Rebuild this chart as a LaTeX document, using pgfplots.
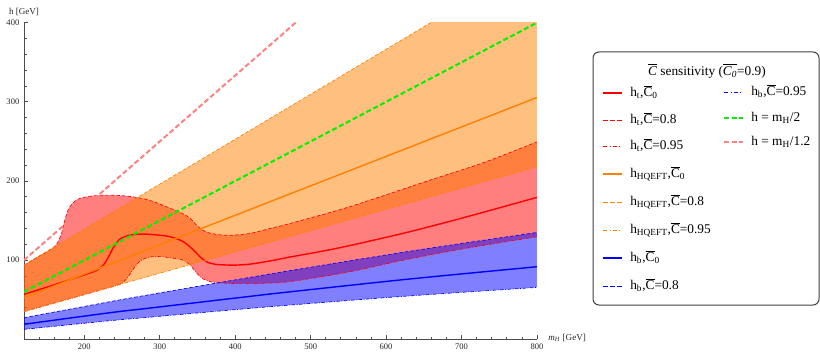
\documentclass[border=0pt]{standalone}
\usepackage{pgfplots}
\pgfplotsset{compat=1.18}
\usepgfplotslibrary{fillbetween}
\usepackage{fontspec}
\setmainfont{Liberation Serif}

\definecolor{mmaRed}{rgb}{1,0,0}
\definecolor{mmaOrange}{rgb}{1,0.5,0}
\definecolor{mmaBlue}{rgb}{0,0,1}
\definecolor{mmaGreen}{rgb}{0,0.95,0}
\definecolor{mmaPink}{rgb}{1,0.5,0.5}
\definecolor{axisgray}{gray}{0.3}

% overlined C in text font (upright and italic)
\newcommand{\Cbar}{$\overline{\hbox{C}}$}
\newcommand{\Cbarit}{$\overline{\hbox{\itshape C}}$}

\tikzset{
  bnddash/.style={line width=0.5pt, dash pattern=on 2.6pt off 1.6pt},
  bnddot/.style={line width=0.5pt, dash pattern=on 2.6pt off 1.2pt on 0.6pt off 1.2pt},
  refdash/.style={line width=1.5pt, dash pattern=on 3.8pt off 2pt},
  central/.style={line width=1.05pt, line cap=round},
  % legend keys
  lsolid/.style={line width=1.5pt},
  ldash/.style={line width=0.75pt, dash pattern=on 3.4pt off 2pt},
  ldot/.style={line width=0.75pt, dash pattern=on 3.2pt off 1.7pt on 0.8pt off 1.7pt},
  ltext/.style={anchor=base west, inner sep=0pt, font=\fontsize{10}{12}\selectfont},
}
% one legend row: sample start x, line y, sample style, label
\newcommand{\legrow}[4]{%
  \draw[#3] (#1,#2) -- ++(14.25pt,0pt);
  \node[ltext] at ([xshift=20.25pt,yshift=-2.6pt]#1,#2) {#4};}

\begin{document}
\begin{tikzpicture}
\begin{axis}[
  at={(18pt,8.775pt)}, anchor=south west,
  scale only axis, width=384.75pt, height=237.45pt,
  xmin=120, xmax=800, ymin=0, ymax=400,
  axis lines=left,
  axis line style={-, draw=axisgray, line width=0.7pt},
  tick align=inside,
  xtick={200,300,...,800}, minor xtick={140,160,...,780},
  ytick={100,200,300,400}, minor ytick={20,40,...,380},
  major tick length=3.2pt, minor tick length=2pt,
  tick style={axisgray, line width=0.6pt},
  tick label style={font=\fontsize{6.4}{7}\selectfont, text=black!85},
  /pgf/number format/assume math mode=true,
  xlabel={\textit{m}\textsubscript{\textit{H}} [GeV]},
  xlabel style={at={(axis description cs:1,0)}, anchor=west, xshift=5pt, yshift=1pt,
    font=\fontsize{6.8}{8}\selectfont, text=black!85},
  ylabel={h [GeV]},
  ylabel style={at={(axis description cs:0,1)}, rotate=-90, anchor=center, yshift=8.2pt,
    font=\fontsize{6.8}{8}\selectfont, text=black!85},
]

% ---- h_t band: Cbar = 0.8 (upper) and Cbar = 0.95 (lower)
\pgfplotstableread{
x     y
120   93.8
140   105
155   113.5
162   118.5
166   125
170   134.5
172.5 145
175.5 155
179   164.5
185   172.5
194   178
210   181
230   182.2
250   181.5
268   179.5
285   176
300   171
315   165
330   159
340   153
348   145
355   139
365   134.5
380   132
395   131.5
420   133.8
446   140
473   146.4
550   167
658   201
730   223.5
800   249.5
}\htupper
\pgfplotstableread{
x     y
120   35
160   45.8
200   56.5
240   67.3
250   71
258   79
265   89
274   99
287   104
300   104.5
314   103
331   100
340   94
349   83.5
358   76
371   72
398   70.5
430   70.5
473   73
550   85
623   100
700   114
800   129.6
}\htlower
\pgfplotstableread{
x     y
120   27.3
234   47.5
287   56.5
446   82.5
623   110
800   135
}\hbupper
\pgfplotstableread{
x     y
120   12.6
234   23.5
287   28
446   41.2
623   54.3
800   65.6
}\hblower

\addplot[name path=htU, draw=none, smooth] table {\htupper};
\addplot[name path=htL, draw=none, smooth] table {\htlower};
\addplot[name path=hqU, draw=none] coordinates {(120,93.8) (800,480)};
\addplot[name path=hqL, draw=none] coordinates {(120,35) (800,218)};
\addplot[name path=hbU, draw=none, smooth] table {\hbupper};
\addplot[name path=hbL, draw=none, smooth] table {\hblower};

\addplot[fill=mmaRed, fill opacity=0.5, draw=none] fill between[of=htU and htL];
\addplot[fill=mmaOrange, fill opacity=0.5, draw=none] fill between[of=hqU and hqL];
\addplot[fill=mmaBlue, fill opacity=0.5, draw=none] fill between[of=hbU and hbL];

% central curves (Cbar_0 = 0.9), each in two pieces, alternated with the band edges
\addplot[color=mmaRed, central, smooth] coordinates {
 (120,56.8) (160,68.8) (190,78.2) (205,83) (216,87) (225,93.5) (232,104)
 (238.5,116) (247,126.5) (260,131.5) (278,133) (300,131.5) (314,129.5)
 (331,123.5) (345,112.5) (353,104.5) (362,98) (375,94.6) (398,93.6)};
\addplot[color=mmaRed, bnddash, smooth] table {\htupper};
\addplot[color=mmaRed, central, smooth] coordinates {
 (398,93.6) (420,95) (446,99) (473,104) (535,115) (623,134) (700,153) (800,179.3)};
\addplot[color=mmaRed, bnddot, smooth] table {\htlower};

\addplot[color=mmaOrange, central] coordinates {(120,52.6) (460,179)};
\addplot[color=mmaOrange, bnddash] coordinates {(120,93.8) (800,480)};
\addplot[color=mmaOrange, central] coordinates {(460,179) (800,305.5)};
\addplot[color=mmaOrange, bnddot] coordinates {(120,35) (800,218)};

\addplot[color=mmaBlue, central, smooth] coordinates {
 (120,19) (234,33.6) (287,39.5) (446,57.2)};
\addplot[color=mmaBlue, bnddash, smooth] table {\hbupper};
\addplot[color=mmaBlue, central, smooth] coordinates {
 (446,57.2) (623,75.4) (800,91.7)};
\addplot[color=mmaBlue, bnddot, smooth] table {\hblower};

% reference scales
\addplot[color=mmaGreen, refdash] coordinates {(120,60) (800,400)};
\addplot[color=mmaPink, refdash] coordinates {(120,100) (480,400)};
\end{axis}

% legend box
\draw[rounded corners=4.5pt, draw=black!75, line width=0.75pt]
  (444.75pt,34.5pt) rectangle (614.25pt,224.25pt);
\node[anchor=base, font=\fontsize{10}{12}\selectfont, inner sep=0pt]
  at (530.25pt,206.7pt) {\Cbarit\ sensitivity ($\overline{\hbox{\itshape C\textsubscript{0}}}$=0.9)};
% first column
\legrow{452.25pt}{193.3pt}{mmaRed, lsolid}{h\textsubscript{t},\Cbar\textsubscript{0}}
\legrow{452.25pt}{173.25pt}{mmaRed, ldash}{h\textsubscript{t},\Cbar=0.8}
\legrow{452.25pt}{153.4pt}{mmaRed, ldot}{h\textsubscript{t},\Cbar=0.95}
\legrow{452.25pt}{132.75pt}{mmaOrange, lsolid}{h\textsubscript{HQEFT},\Cbar\textsubscript{0}}
\legrow{452.25pt}{111.75pt}{mmaOrange, ldash}{h\textsubscript{HQEFT},\Cbar=0.8}
\legrow{452.25pt}{90.4pt}{mmaOrange, ldot}{h\textsubscript{HQEFT},\Cbar=0.95}
\legrow{452.25pt}{69.4pt}{mmaBlue, lsolid}{h\textsubscript{b},\Cbar\textsubscript{0}}
\legrow{452.25pt}{48.75pt}{mmaBlue, ldash}{h\textsubscript{b},\Cbar=0.8}
% second column
\legrow{543pt}{194pt}{mmaBlue, ldot}{h\textsubscript{b},\Cbar=0.95}
\legrow{543pt}{175pt}{mmaGreen, refdash}{h = m\textsubscript{H}/2}
\legrow{543pt}{156.5pt}{mmaPink, refdash}{h = m\textsubscript{H}/1.2}
% page extent
\path (0pt,0pt) rectangle (615pt,263.25pt);
\end{tikzpicture}
\end{document}
